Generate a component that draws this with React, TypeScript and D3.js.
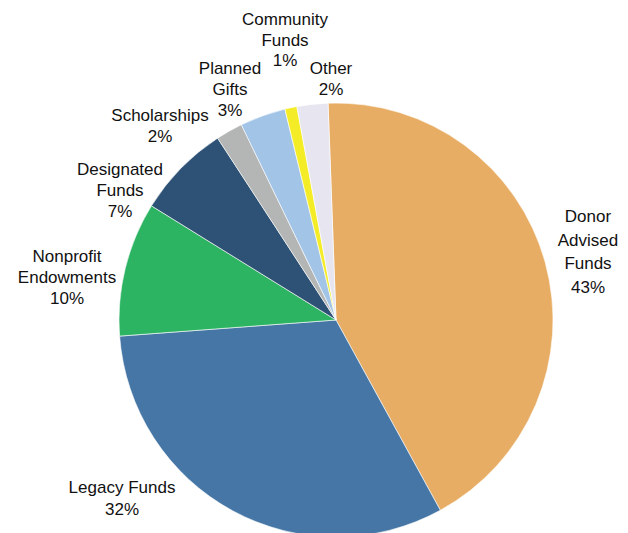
import React from "react";
import * as d3 from "d3";

const categories = [
  "Donor Advised Funds",
  "Legacy Funds",
  "Nonprofit Endowments",
  "Designated Funds",
  "Scholarships",
  "Planned Gifts",
  "Community Funds",
  "Other",
];
const values = [42.6, 31.8, 10.0, 7.0, 2.0, 3.4, 0.9, 2.3];
const labelLines = [
  ["Donor", "Advised", "Funds", "43%"],
  ["Legacy Funds", "32%"],
  ["Nonprofit", "Endowments", "10%"],
  ["Designated", "Funds", "7%"],
  ["Scholarships", "2%"],
  ["Planned", "Gifts", "3%"],
  ["Community", "Funds", "1%"],
  ["Other", "2%"],
];
const colors = [
  "#E8AD64",
  "#4676A5",
  "#2DB463",
  "#2E5275",
  "#B4B5B5",
  "#A2C4E7",
  "#F4EC27",
  "#E7E6F0",
];

// label anchor (center x, first baseline y) and line spacing
const labelPos: [number, number, number][] = [
  [588, 222, 23.5],
  [122, 493, 22],
  [67, 262, 21],
  [120, 175, 21],
  [160, 121, 21],
  [230, 74, 21],
  [285, 25, 20.5],
  [331, 74, 21],
];

export default function App() {
  const width = 628;
  const height = 533;
  const cx = 336;
  const cy = 320;
  const r = 217;
  const startDeg = -2.1;

  const pie = d3
    .pie<number>()
    .sort(null)
    .value((d) => d)
    .startAngle((startDeg * Math.PI) / 180)
    .endAngle(((startDeg + 360) * Math.PI) / 180);
  const arcs = pie(values);
  const arc = d3.arc<d3.PieArcDatum<number>>().innerRadius(0).outerRadius(r);

  return (
    <svg
      width={width}
      height={height}
      style={{ position: "absolute", left: 0, top: 0, background: "#fff" }}
      fontFamily="'Liberation Sans', Arial, sans-serif"
    >
      <g transform={`translate(${cx},${cy})`}>
        {arcs.map((a, i) => (
          <path
            key={categories[i]}
            d={arc(a) || ""}
            fill={colors[i]}
            stroke="#ffffff"
            strokeWidth={0.6}
          />
        ))}
      </g>
      {labelLines.map((lines, i) => (
        <text
          key={categories[i]}
          textAnchor="middle"
          fontSize={17}
          fill="#111111"
        >
          {lines.map((t, j) => (
            <tspan key={j} x={labelPos[i][0]} y={labelPos[i][1] + j * labelPos[i][2]}>
              {t}
            </tspan>
          ))}
        </text>
      ))}
    </svg>
  );
}
